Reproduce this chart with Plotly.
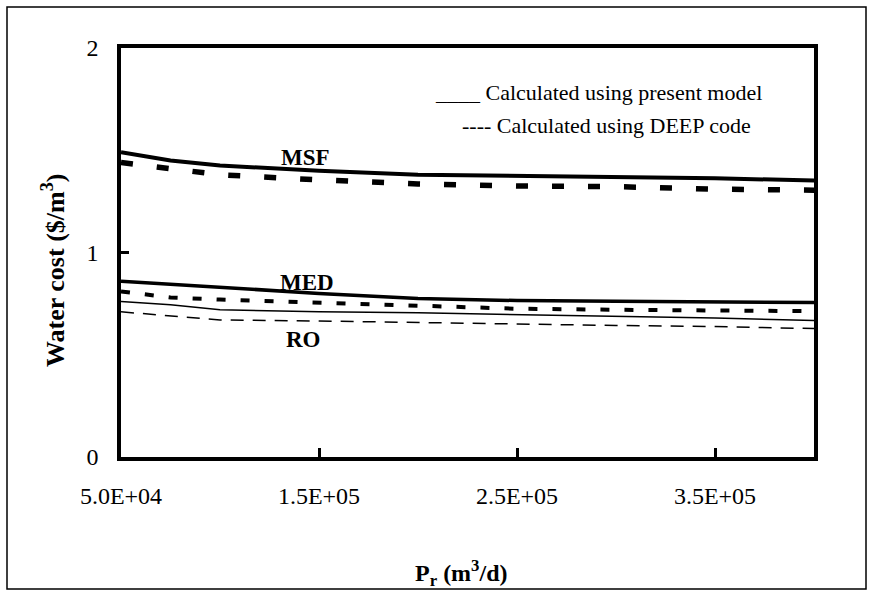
import plotly.graph_objects as go

# ---- data ----
capacity = [50000, 75000, 100000, 150000, 200000, 250000, 300000, 350000, 400000]
msf_present = [1.49, 1.45, 1.425, 1.40, 1.38, 1.375, 1.37, 1.363, 1.352]
msf_deep = [1.44, 1.41, 1.38, 1.355, 1.335, 1.325, 1.322, 1.31, 1.305]
med_present = [0.86, 0.845, 0.83, 0.80, 0.775, 0.765, 0.762, 0.758, 0.755]
med_deep = [0.81, 0.78, 0.77, 0.755, 0.74, 0.725, 0.72, 0.715, 0.713]
ro_present = [0.76, 0.745, 0.72, 0.71, 0.705, 0.697, 0.69, 0.68, 0.667]
ro_deep = [0.71, 0.69, 0.67, 0.665, 0.657, 0.65, 0.643, 0.638, 0.628]

x_tickvals = [50000, 150000, 250000, 350000]
x_ticktext = ["5.0E+04", "1.5E+05", "2.5E+05", "3.5E+05"]
y_tickvals = [0, 1, 2]
y_ticktext = ["0", "1", "2"]

series_labels = ["MSF", "MED", "RO"]
label_pos_x = [143000, 144000, 142000]
label_pos_y = [1.467, 0.852, 0.577]

W, H = 873, 596
L, R, T, B = 121, 59, 48, 139
pw, ph = W - L - R, H - T - B

def px(xp):
    return (xp - L) / pw

def py(yp):
    return (H - B - yp) / ph

SERIF = "'Liberation Serif', 'Times New Roman', serif"

fig = go.Figure()

def add(y, width, dash):
    fig.add_trace(go.Scatter(x=capacity, y=y, mode="lines",
                             line=dict(color="black", width=width, dash=dash),
                             showlegend=False, hoverinfo="skip"))

add(msf_present, 4, "solid")
add(msf_deep, 5.5, "12px,24px")
add(med_present, 3.5, "solid")
add(med_deep, 4, "9px,15px")
add(ro_present, 1.5, "solid")
add(ro_deep, 1.5, "13px,9px")

annotations = []
for name, xx, yy in zip(series_labels, label_pos_x, label_pos_y):
    annotations.append(dict(x=xx, y=yy, xref="x", yref="y", text="<b>%s</b>" % name,
                            xanchor="center", yanchor="middle",
                            showarrow=False, font=dict(family=SERIF, size=23, color="black")))

annotations.append(dict(x=px(433), y=py(92), xref="paper", yref="paper", xanchor="left",
                        yanchor="middle", text="____ Calculated using present model",
                        showarrow=False, font=dict(family=SERIF, size=22, color="black")))
annotations.append(dict(x=px(460), y=py(125), xref="paper", yref="paper", xanchor="left",
                        yanchor="middle", text="---- Calculated using DEEP code",
                        showarrow=False, font=dict(family=SERIF, size=22, color="black")))
annotations.append(dict(x=px(53), y=py(271), xref="paper", yref="paper", textangle=-90,
                        xanchor="center", yanchor="middle",
                        text="<b>Water cost ($/m<sup>3</sup>)</b>", showarrow=False,
                        font=dict(family=SERIF, size=26, color="black")))
annotations.append(dict(x=px(461), y=py(573), xref="paper", yref="paper",
                        xanchor="center", yanchor="middle",
                        text="<b>P<sub>r</sub> (m<sup>3</sup>/d)</b>", showarrow=False,
                        font=dict(family=SERIF, size=24, color="black")))

fig.update_layout(
    width=W, height=H,
    margin=dict(l=L, r=R, t=T, b=B, autoexpand=False),
    paper_bgcolor="white", plot_bgcolor="white",
    annotations=annotations,
    shapes=[dict(type="rect", xref="paper", yref="paper",
                 x0=px(7), x1=px(866), y0=py(589), y1=py(7),
                 line=dict(color="black", width=1.5), layer="below")],
    xaxis=dict(range=[50000, 400000], showgrid=False, zeroline=False,
               showline=True, mirror=True, linecolor="black", linewidth=3.5,
               ticks="inside", ticklen=9, tickwidth=2.5, tickcolor="black",
               tickvals=x_tickvals, ticktext=x_ticktext, ticklabelstandoff=14,
               tickfont=dict(family=SERIF, size=24, color="black")),
    yaxis=dict(range=[0, 2], showgrid=False, zeroline=False,
               showline=True, mirror=True, linecolor="black", linewidth=3.5,
               ticks="inside", ticklen=8, tickwidth=3, tickcolor="black",
               tickvals=y_tickvals, ticktext=y_ticktext, ticklabelstandoff=14,
               tickfont=dict(family=SERIF, size=24, color="black")),
)

fig.write_html("out.html")
